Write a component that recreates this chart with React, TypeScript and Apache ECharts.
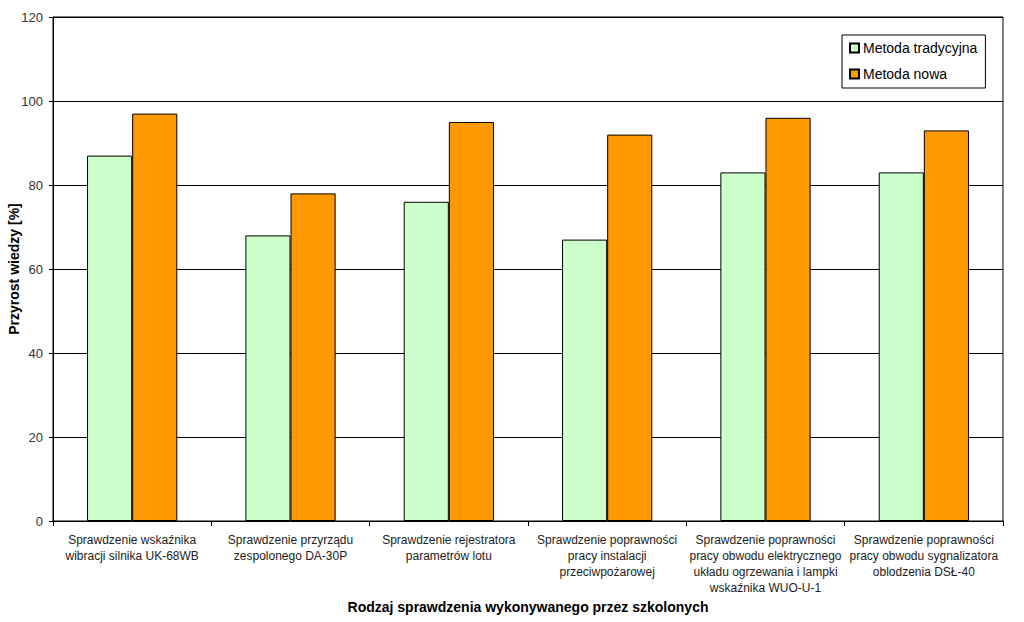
import React, { useEffect, useRef } from "react";
import * as echarts from "echarts";

const categories = [
  "Sprawdzenie wskaźnika\nwibracji silnika UK-68WB",
  "Sprawdzenie przyrządu\nzespolonego DA-30P",
  "Sprawdzenie rejestratora\nparametrów lotu",
  "Sprawdzenie poprawności\npracy instalacji\nprzeciwpożarowej",
  "Sprawdzenie poprawności\npracy obwodu elektrycznego\nukładu ogrzewania i lampki\nwskaźnika WUO-U-1",
  "Sprawdzenie poprawności\npracy obwodu sygnalizatora\noblodzenia DSŁ-40",
];
const traditional = [87, 68, 76, 67, 83, 83];
const modern = [97, 78, 95, 92, 96, 93];
const seriesNames = ["Metoda tradycyjna", "Metoda nowa"];

export default function App() {
  const ref = useRef<HTMLDivElement>(null);
  useEffect(() => {
    if (!ref.current) return;
    const chart = echarts.init(ref.current, null, { renderer: "svg" });
    const font = "Arial, 'Liberation Sans', sans-serif";
    chart.setOption({
      animation: false,
      backgroundColor: "#fff",
      textStyle: { fontFamily: font },
      grid: {
        left: 53,
        right: 21,
        top: 17,
        bottom: 101,
        outerBoundsMode: "none",
        containLabel: false,
        show: true,
        borderColor: "#000",
        borderWidth: 1,
        backgroundColor: "#fff",
      },
      legend: {
        orient: "vertical",
        left: 842,
        top: 35,
        itemWidth: 9,
        itemHeight: 9,
        itemGap: 10,
        padding: [5, 8, 6, 7],
        borderColor: "#000",
        borderWidth: 1,
        backgroundColor: "#fff",
        icon: "rect",
        textStyle: { fontSize: 14, lineHeight: 16, color: "#000", fontFamily: font, padding: [0, 0, 0, -1] },
        data: seriesNames,
      },
      xAxis: {
        type: "category",
        data: categories,
        name: "Rodzaj sprawdzenia wykonywanego przez szkolonych",
        nameLocation: "middle",
        nameGap: 79,
        nameMoveOverlap: false,
        nameTextStyle: { fontSize: 14, fontWeight: "bold", color: "#000", fontFamily: font },
        axisLine: { lineStyle: { color: "#000", width: 1 } },
        axisTick: { show: true, length: 5, lineStyle: { color: "#000" } },
        axisLabel: {
          interval: 0,
          fontSize: 12,
          lineHeight: 16,
          color: "#222",
          margin: 11,
          fontFamily: font,
        },
      },
      yAxis: {
        type: "value",
        min: 0,
        max: 120,
        interval: 20,
        name: "Przyrost wiedzy [%]",
        nameLocation: "middle",
        nameGap: 32,
        nameMoveOverlap: false,
        nameTextStyle: { fontSize: 14, fontWeight: "bold", color: "#000", fontFamily: font },
        axisLine: { show: true, lineStyle: { color: "#000", width: 1 } },
        axisTick: { show: true, length: 4, lineStyle: { color: "#000" } },
        axisLabel: { fontSize: 13, color: "#333", margin: 10, fontFamily: font },
        splitLine: { show: true, lineStyle: { color: "#000", width: 1 } },
      },
      series: [
        {
          name: seriesNames[0],
          type: "bar",
          data: traditional,
          barGap: "0%",
          barCategoryGap: "43%",
          itemStyle: { color: "#CCFFCC", borderColor: "#000", borderWidth: 1 },
        },
        {
          name: seriesNames[1],
          type: "bar",
          data: modern,
          barGap: "0%",
          barCategoryGap: "43%",
          itemStyle: { color: "#FF9900", borderColor: "#000", borderWidth: 1 },
        },
      ],
    });
    return () => chart.dispose();
  }, []);
  return (
    <div
      ref={ref}
      style={{ position: "fixed", left: 0, top: 0, width: 1024, height: 622 }}
    />
  );
}
